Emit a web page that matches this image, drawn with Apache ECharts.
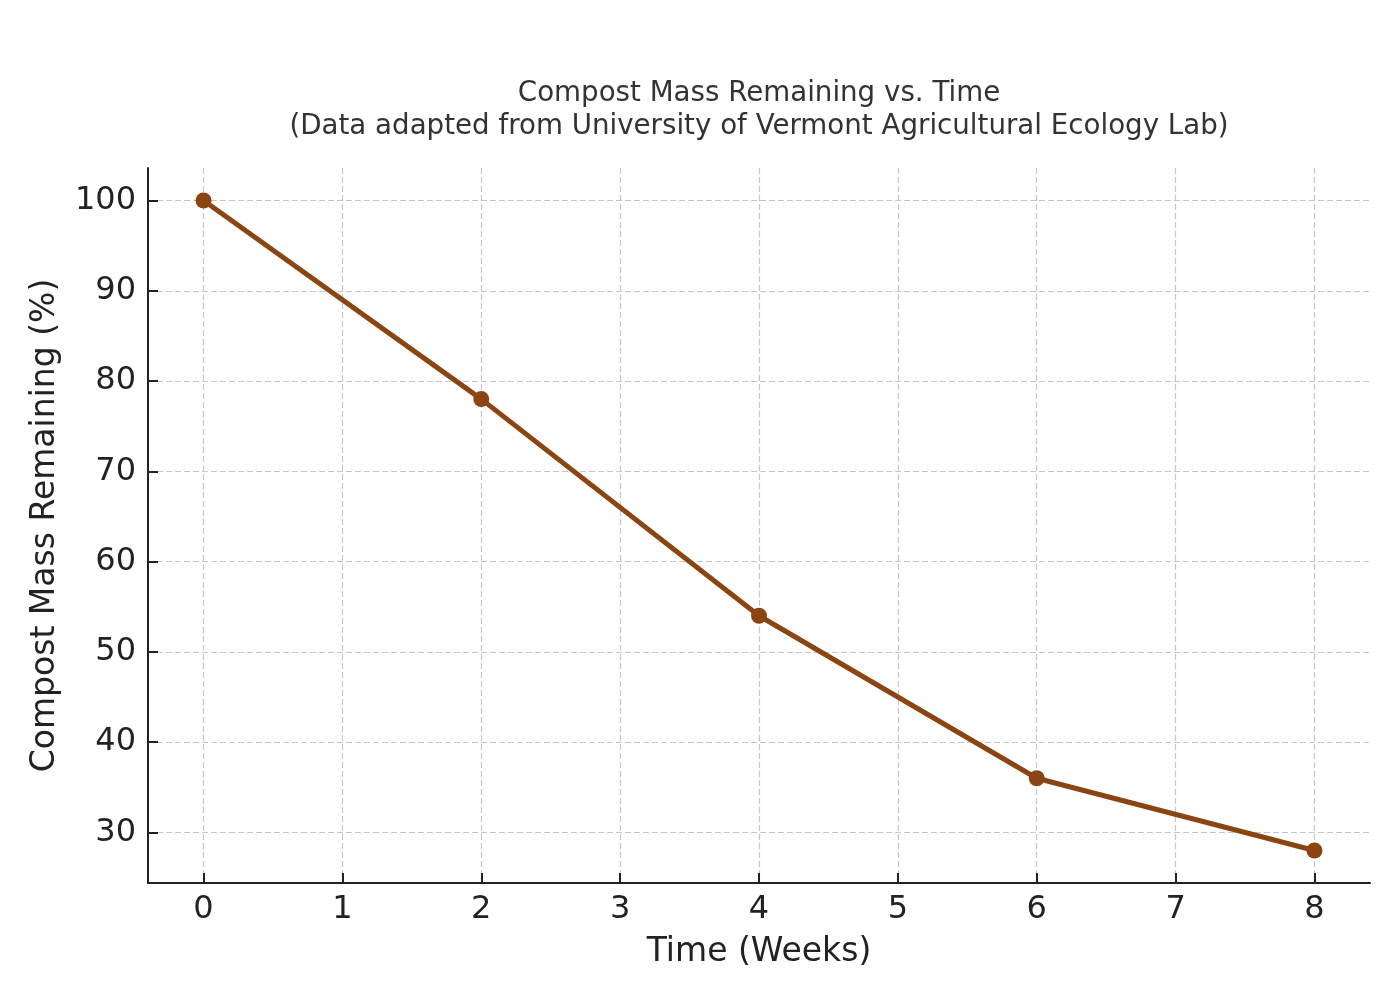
<!DOCTYPE html>
<html>
<head>
<meta charset="utf-8">
<title>Compost Mass Remaining vs. Time</title>
<script src="https://cdn.jsdelivr.net/npm/echarts@6/dist/echarts.min.js"></script>
<style>
  html, body { margin: 0; padding: 0; background: #fff; }
  #main { width: 1400px; height: 1000px; }
</style>
</head>
<body>
<div id="main"></div>
<script>
// data
var weeks = [0, 2, 4, 6, 8];
var massRemaining = [100, 78, 54, 36, 28];
var xTicks = [0, 1, 2, 3, 4, 5, 6, 7, 8];
var yTicks = [30, 40, 50, 60, 70, 80, 90, 100];

var font = "DejaVu Sans";
var ink = "#222222";

var chart = echarts.init(document.getElementById("main"));

var option = {
  backgroundColor: "#ffffff",
  animation: false,
  title: {
    text: "Compost Mass Remaining vs. Time\n(Data adapted from University of Vermont Agricultural Ecology Lab)",
    left: 754,
    top: 72,
    textAlign: "center",
    textStyle: {
      fontFamily: font,
      fontSize: 27.7,
      fontWeight: "normal",
      color: "#333333",
      lineHeight: 33,
      align: "center"
    }
  },
  grid: {
    left: 148,
    right: 30,
    top: 168,
    bottom: 117,
    containLabel: false
  },
  xAxis: {
    type: "value",
    min: -0.4,
    max: 8.4,
    name: "Time (Weeks)",
    nameLocation: "middle",
    nameGap: 53,
    nameTextStyle: { fontFamily: font, fontSize: 33, color: ink },
    axisLine: { show: true, onZero: false, lineStyle: { color: ink, width: 2 } },
    axisTick: { show: true, inside: true, length: 10, customValues: xTicks, lineStyle: { color: ink, width: 2 } },
    axisLabel: { customValues: xTicks, margin: 11, fontFamily: font, fontSize: 32, color: ink },
    splitLine: { show: true, lineStyle: { color: "#c6c6c6", width: 1.2, type: [6, 3] } }
  },
  yAxis: {
    type: "value",
    min: 24.4,
    max: 103.6,
    name: "Compost Mass Remaining (%)",
    nameLocation: "middle",
    nameGap: 86,
    nameTextStyle: { fontFamily: font, fontSize: 33, color: ink },
    axisLine: { show: true, onZero: false, lineStyle: { color: ink, width: 2 } },
    axisTick: { show: true, inside: true, length: 10, customValues: yTicks, lineStyle: { color: ink, width: 2 } },
    axisLabel: { customValues: yTicks, margin: 12, fontFamily: font, fontSize: 32, color: ink },
    splitLine: { show: true, lineStyle: { color: "#c6c6c6", width: 1.2, type: [6, 3] } }
  },
  series: [
    {
      type: "line",
      data: weeks.map(function (w, i) { return [w, massRemaining[i]]; }),
      symbol: "circle",
      symbolSize: 16,
      showSymbol: true,
      lineStyle: { color: "#8b4513", width: 5 },
      itemStyle: { color: "#8b4513" },
      z: 5
    }
  ]
};

chart.setOption(option);
</script>
</body>
</html>
